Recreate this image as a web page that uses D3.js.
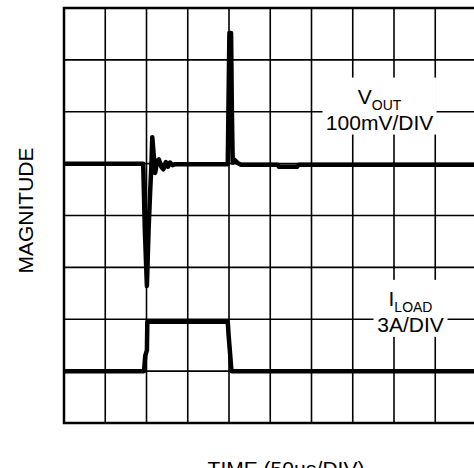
<!DOCTYPE html>
<html>
<head>
<meta charset="utf-8">
<script src="https://cdn.jsdelivr.net/npm/d3@7"></script>
<style>
  body { margin: 0; background: #fff; }
  text { font-family: "Liberation Sans", Arial, sans-serif; fill: #000; }
</style>
</head>
<body>
<svg id="chart" width="474" height="468"></svg>
<script>
// scope grid: 10 time divisions (50us each), 8 vertical divisions
const timeDivs = d3.range(0, 11);
const magDivs = d3.range(0, 9);

// VOUT trace (time in div, level in div)
const voutT = [0, 1.92, 1.96, 2.01, 2.05, 2.09, 2.12, 2.14, 2.19, 2.21, 2.26, 2.3, 2.36, 2.41, 2.47, 2.52, 2.57, 2.63, 2.7, 3.97, 3.99, 4.01, 4.05, 4.07, 4.09, 4.14, 4.2, 4.28, 5.18, 5.21, 5.65, 5.69, 10];
const voutV = [5.0, 5.0, 3.72, 2.64, 3.72, 4.49, 5.0, 5.51, 5.02, 4.82, 5.05, 5.08, 4.94, 4.89, 5.03, 4.94, 5.02, 4.97, 4.99, 4.99, 6.3, 7.52, 7.52, 6.0, 5.02, 5.07, 5.02, 4.98, 4.98, 4.94, 4.94, 4.98, 4.98];

// ILOAD trace
const iloadT = [0, 1.94, 1.97, 2.01, 2.02, 3.97, 3.99, 4.06, 10];
const iloadV = [1.0, 1.0, 1.3, 1.4, 1.95, 1.95, 1.7, 1.0, 1.0];

const labels = [
  { main: 'V', sub: 'OUT', scale: '100mV/DIV', t: 7.65, v: 6.1 },
  { main: 'I', sub: 'LOAD', scale: '3A/DIV', t: 8.4, v: 2.2 }
];

const svg = d3.select('#chart');
const x = d3.scaleLinear().domain([0, 10]).range([64, 476.5]);
const y = d3.scaleLinear().domain([0, 8]).range([423, 8]);

// grid
const grid = svg.append('g').attr('stroke', '#000').attr('stroke-width', 1.6);
grid.selectAll('line.v')
  .data(timeDivs.slice(1, -1))
  .enter().append('line')
  .attr('x1', d => x(d)).attr('x2', d => x(d))
  .attr('y1', y(8)).attr('y2', y(0));
grid.selectAll('line.h')
  .data(magDivs.slice(1, -1))
  .enter().append('line')
  .attr('x1', x(0)).attr('x2', x(10))
  .attr('y1', d => y(d)).attr('y2', d => y(d));

// label boxes blank the grid behind the text
const lab = svg.append('g');
labels.forEach((l) => {
  const cx = x(l.t);
  const cy = y(l.v);
  const w = l.sub === 'OUT' ? 114 : 74;
  lab.append('rect')
    .attr('x', cx - w / 2).attr('y', cy - 29)
    .attr('width', w).attr('height', 57)
    .attr('fill', '#fff');
  const t1 = lab.append('text')
    .attr('x', cx).attr('y', cy - 3)
    .attr('text-anchor', 'middle')
    .style('font-size', '21px');
  t1.append('tspan').text(l.main);
  t1.append('tspan').attr('dy', 6.5).style('font-size', '14px').text(l.sub);
  lab.append('text')
    .attr('x', cx).attr('y', cy + 23)
    .attr('text-anchor', 'middle')
    .style('font-size', '21px')
    .text(l.scale);
});

// frame
svg.append('rect')
  .attr('x', x(0)).attr('y', y(8))
  .attr('width', x(10) - x(0)).attr('height', y(0) - y(8))
  .attr('fill', 'none').attr('stroke', '#000').attr('stroke-width', 2.5);

// traces
const line = d3.line().x(d => x(d[0])).y(d => y(d[1]));
svg.append('path')
  .datum(d3.zip(voutT, voutV))
  .attr('d', line)
  .attr('fill', 'none').attr('stroke', '#000')
  .attr('stroke-width', 4.5).attr('stroke-linejoin', 'round');
svg.append('path')
  .datum(d3.zip(iloadT, iloadV))
  .attr('d', line)
  .attr('fill', 'none').attr('stroke', '#000')
  .attr('stroke-width', 4.5).attr('stroke-linejoin', 'round');

// axis titles
svg.append('text')
  .attr('transform', `translate(33,${y(4) - 5}) rotate(-90)`)
  .attr('text-anchor', 'middle')
  .style('font-size', '21px')
  .text('MAGNITUDE');
svg.append('text')
  .attr('x', 286).attr('y', 476)
  .attr('text-anchor', 'middle')
  .style('font-size', '21px')
  .text('TIME (50µs/DIV)');
</script>
</body>
</html>
